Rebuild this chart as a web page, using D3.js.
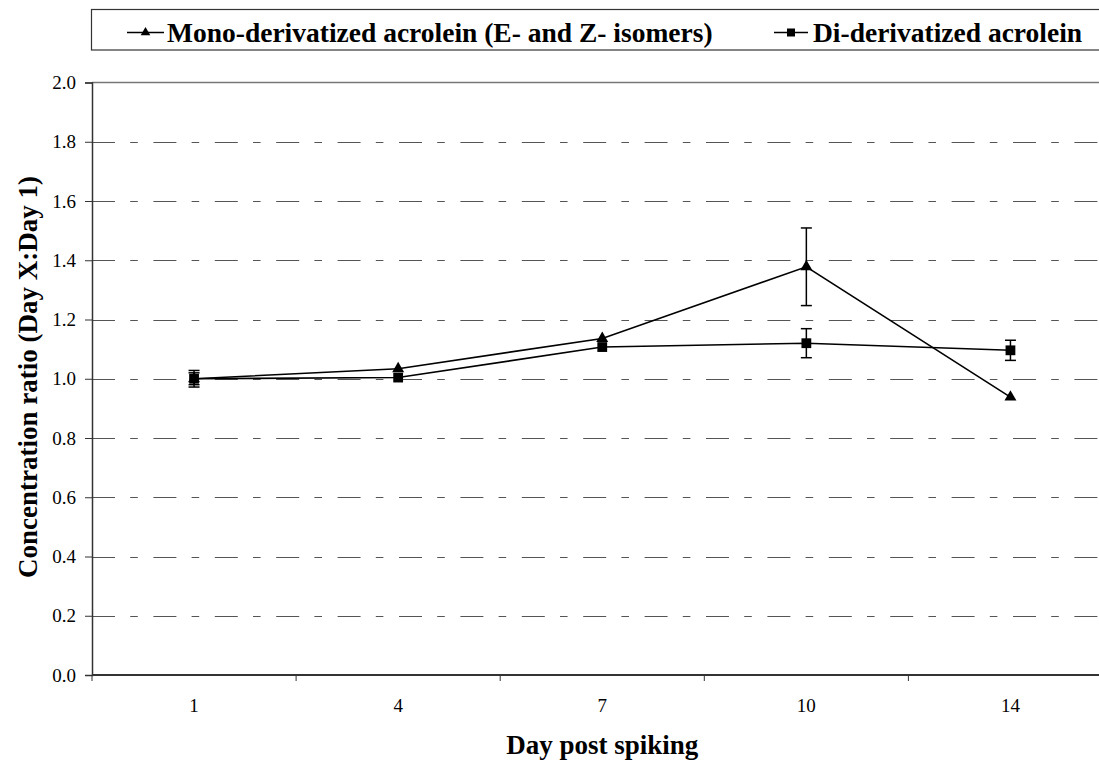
<!DOCTYPE html>
<html>
<head>
<meta charset="utf-8">
<script src="https://cdn.jsdelivr.net/npm/d3@7"></script>
<style>
  html, body { margin: 0; padding: 0; background: #fff; }
  svg { display: block; }
  text { font-family: "Liberation Serif", "Times New Roman", serif; fill: #000; }
</style>
</head>
<body>
<svg id="chart" width="1099" height="763" font-family="Liberation Serif, serif"></svg>
<script>
// Sampling days (categories on the x axis)
const days = ["1", "4", "7", "10", "14"];
// Concentration ratio relative to day 1, with error bar half-widths
const monoValues = [1.0, 1.034, 1.136, 1.378, 0.938];
const monoErrors = [0.02, 0.004, 0.004, 0.131, 0.004];
const diValues = [1.0, 1.004, 1.107, 1.12, 1.096];
const diErrors = [0.028, 0.004, 0.004, 0.049, 0.034];
const yTicks = [0.0, 0.2, 0.4, 0.6, 0.8, 1.0, 1.2, 1.4, 1.6, 1.8, 2.0];
const seriesNames = ["Mono-derivatized acrolein (E- and Z- isomers)", "Di-derivatized acrolein"];

const svg = d3.select("#chart");
const plot = { left: 92, top: 82.5, right: 1112.5, bottom: 675 };

const x = d3.scaleBand().domain(days).range([plot.left, plot.right]).paddingInner(0).paddingOuter(0);
const y = d3.scaleLinear().domain([0, 2]).range([plot.bottom, plot.top]);

// Horizontal dash-dot gridlines
svg.append("g")
  .selectAll("line")
  .data(yTicks.filter(v => v > 0 && v < 2))
  .join("line")
  .attr("x1", plot.left).attr("x2", plot.right)
  .attr("y1", d => Math.round(y(d)) + 0.5).attr("y2", d => Math.round(y(d)) + 0.5)
  .attr("stroke", "#555").attr("stroke-width", 1)
  .attr("stroke-dasharray", "23,15.2,7.6,15.6");

// Top frame line
svg.append("line")
  .attr("x1", plot.left).attr("x2", plot.right)
  .attr("y1", y(2)).attr("y2", y(2))
  .attr("stroke", "#777").attr("stroke-width", 1.3);

// Y axis
const yAxis = d3.axisLeft(y).tickValues(yTicks).tickFormat(d3.format(".1f")).tickSize(7).tickPadding(9);
const gy = svg.append("g").attr("transform", `translate(${plot.left},0)`).call(yAxis);
gy.attr("font-family", null).attr("font-size", null);
gy.select(".domain").attr("stroke", "#333").attr("stroke-width", 1.5);
gy.selectAll(".tick line").attr("stroke", "#333");
gy.selectAll("text").style("font-size", "19px").attr("fill", "#000");

// X axis: ticks on band boundaries, labels at band centres
const gx = svg.append("g").attr("transform", `translate(0,${plot.bottom})`);
gx.append("line").attr("x1", plot.left).attr("x2", plot.right)
  .attr("stroke", "#333").attr("stroke-width", 2);
const boundaries = days.map(d => x(d)).concat([x(days[days.length - 1]) + x.bandwidth()]);
gx.selectAll(".bt").data(boundaries).join("line").attr("class", "bt")
  .attr("x1", d => d).attr("x2", d => d).attr("y1", 0).attr("y2", 6)
  .attr("stroke", "#333");
gx.selectAll(".lbl").data(days).join("text").attr("class", "lbl")
  .attr("x", d => x(d) + x.bandwidth() / 2).attr("y", 37)
  .attr("text-anchor", "middle").style("font-size", "19px").text(d => d);

// Axis titles
svg.append("text")
  .attr("x", x("7") + x.bandwidth() / 2).attr("y", 754)
  .attr("text-anchor", "middle").style("font-size", "27px").style("font-weight", "bold")
  .text("Day post spiking");
svg.append("text")
  .attr("transform", "translate(37,377) rotate(-90)")
  .attr("text-anchor", "middle").style("font-size", "27px").style("font-weight", "bold")
  .text("Concentration ratio (Day X:Day 1)");

const cx = d => x(d) + x.bandwidth() / 2;
const triangle = d3.symbol().type(d3.symbolTriangle).size(62);
const square = d3.symbol().type(d3.symbolSquare).size(96);

function drawSeries(values, errors, sym) {
  const pts = days.map((d, i) => ({ d, v: values[i], e: errors[i] }));
  const g = svg.append("g");
  g.append("path").datum(pts)
    .attr("d", d3.line().x(p => cx(p.d)).y(p => y(p.v)))
    .attr("fill", "none").attr("stroke", "#000").attr("stroke-width", 1.6);
  // error bars that would be hidden behind the marker are skipped
  const eb = g.selectAll(".eb").data(pts.filter(p => y(p.v - p.e) - y(p.v + p.e) > 8)).join("g").attr("class", "eb");
  eb.append("line").attr("x1", p => cx(p.d)).attr("x2", p => cx(p.d))
    .attr("y1", p => y(p.v + p.e)).attr("y2", p => y(p.v - p.e)).attr("stroke", "#000").attr("stroke-width", 1.5);
  eb.append("line").attr("x1", p => cx(p.d) - 5.5).attr("x2", p => cx(p.d) + 5.5)
    .attr("y1", p => y(p.v + p.e)).attr("y2", p => y(p.v + p.e)).attr("stroke", "#000").attr("stroke-width", 1.5);
  eb.append("line").attr("x1", p => cx(p.d) - 5.5).attr("x2", p => cx(p.d) + 5.5)
    .attr("y1", p => y(p.v - p.e)).attr("y2", p => y(p.v - p.e)).attr("stroke", "#000").attr("stroke-width", 1.5);
  g.selectAll(".m").data(pts).join("path").attr("class", "m")
    .attr("transform", p => `translate(${cx(p.d)},${y(p.v)})`)
    .attr("d", sym).attr("fill", "#000");
}

drawSeries(diValues, diErrors, square);
drawSeries(monoValues, monoErrors, triangle);

// Legend
const legend = svg.append("g");
legend.append("rect").attr("x", 91.5).attr("y", 9.5).attr("width", 1030).attr("height", 40.5)
  .attr("fill", "#fff").attr("stroke", "#333").attr("stroke-width", 1.2);
const legendItems = [
  { name: seriesNames[0], sym: d3.symbol().type(d3.symbolTriangle).size(40), x0: 127, x1: 164, tx: 167 },
  { name: seriesNames[1], sym: d3.symbol().type(d3.symbolSquare).size(64), x0: 774, x1: 808, tx: 813 }
];
legendItems.forEach(it => {
  legend.append("line").attr("x1", it.x0).attr("x2", it.x1).attr("y1", 32.5).attr("y2", 32.5)
    .attr("stroke", "#000").attr("stroke-width", 1.6);
  legend.append("path").attr("transform", `translate(${(it.x0 + it.x1) / 2},32.5)`)
    .attr("d", it.sym).attr("fill", "#000");
  legend.append("text").attr("x", it.tx).attr("y", 41.5)
    .style("font-size", "27.5px").style("font-weight", "bold").text(it.name);
});
</script>
</body>
</html>
